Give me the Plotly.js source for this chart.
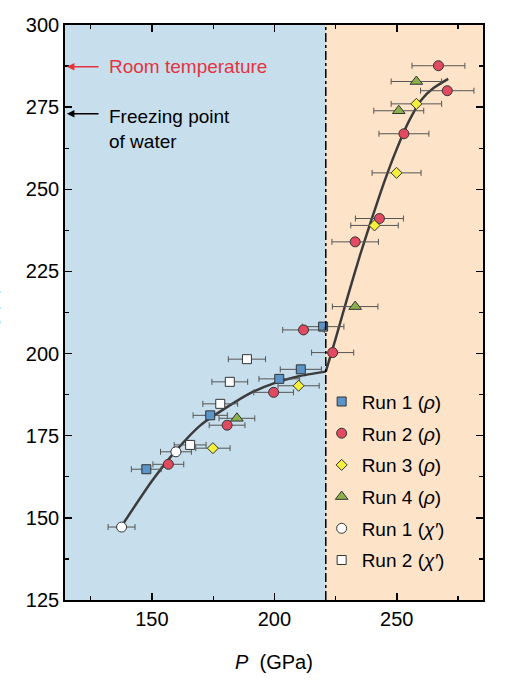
<!DOCTYPE html>
<html>
<head>
<meta charset="utf-8">
<script src="https://cdn.plot.ly/plotly-3.0.1.min.js"></script>
<style>html,body{margin:0;padding:0;background:#fff;}#chart{width:520px;height:692px;}</style>
</head>
<body>
<div id="chart"></div>
<script>
// ---- data ----
const run1RhoP   = [147.7, 173.8, 202.0, 210.8, 219.9];
const run1RhoT   = [164.8, 181.2, 192.3, 195.2, 208.2];
const run1RhoErr = [6.1, 7.0, 8.3, 8.4, 8.5];

const run2RhoP   = [156.7, 180.7, 199.7, 211.9, 223.8, 233.0, 242.9, 252.9, 267.0, 270.6];
const run2RhoT   = [166.3, 178.2, 188.2, 207.2, 200.3, 234.0, 241.1, 266.9, 287.6, 280.0];
const run2RhoErr = [6.3, 7.3, 8.1, 8.5, 8.6, 9.5, 9.8, 10.2, 10.8, 10.9];

const run3RhoP   = [174.9, 209.9, 240.9, 249.9, 258.0];
const run3RhoT   = [171.2, 190.2, 239.0, 255.0, 276.0];
const run3RhoErr = [7.0, 8.4, 9.7, 10.0, 10.3];

const run4RhoP   = [184.7, 233.0, 250.8, 258.0];
const run4RhoT   = [180.3, 214.3, 273.9, 282.8];
const run4RhoErr = [7.3, 9.3, 10.2, 10.3];

const run1ChiP   = [137.6, 159.8];
const run1ChiT   = [147.2, 170.1];
const run1ChiErr = [5.5, 6.3];

const run2ChiP   = [165.6, 177.9, 181.8, 188.8];
const run2ChiT   = [172.2, 184.7, 191.4, 198.3];
const run2ChiErr = [6.5, 7.1, 7.3, 7.6];

// guide curve (two branches meeting at the transition)
const fitLowP  = [137.6, 150.0, 160.0, 170.0, 180.0, 190.0, 200.0, 210.0, 221.0];
const fitLowT  = [147.5, 161.2, 170.6, 178.3, 183.4, 187.9, 191.0, 193.1, 194.5];
const fitHighP = [221.0, 225.0, 230.0, 235.0, 240.0, 245.0, 250.0, 255.0, 260.0, 265.0, 271.0];
const fitHighT = [194.5, 204.5, 217.5, 230.0, 241.5, 252.5, 262.3, 270.8, 277.2, 280.8, 283.6];

const transitionP = 221;
const roomT = 287.3;
const freezeT = 273;
const xRange = [114.5, 285.2];
const yRange = [125, 300];

const FONT = 'Liberation Sans, Arial, Helvetica, sans-serif';
const edge = {color: '#333333', width: 1};
function errX(arr){ return {type:'data', array: arr, visible:true, color:'#555555', thickness:1, width:3}; }

const traces = [
  {x: fitLowP, y: fitLowT, mode:'lines', line:{color:'#3b3b3b', width:2.5, shape:'spline', smoothing:0.6}, showlegend:false, hoverinfo:'skip'},
  {x: fitHighP, y: fitHighT, mode:'lines', line:{color:'#3b3b3b', width:2.5, shape:'spline', smoothing:0.6}, showlegend:false, hoverinfo:'skip'},
  {x: run1RhoP, y: run1RhoT, error_x: errX(run1RhoErr), mode:'markers', name:'Run 1 (<i>ρ</i>)', legendgroup:'a',
   marker:{symbol:'square', size:9, color:'#5b95c8', line:edge}},
  {x: run2RhoP, y: run2RhoT, error_x: errX(run2RhoErr), mode:'markers', name:'Run 2 (<i>ρ</i>)', legendgroup:'b',
   marker:{symbol:'circle', size:10, color:'#e14a60', line:edge}},
  {x: run3RhoP, y: run3RhoT, error_x: errX(run3RhoErr), mode:'markers', name:'Run 3 (<i>ρ</i>)', legendgroup:'c',
   marker:{symbol:'diamond', size:8.5, color:'#f4ee3c', line:edge}},
  {x: run4RhoP, y: run4RhoT, error_x: errX(run4RhoErr), mode:'markers', name:'Run 4 (<i>ρ</i>)', legendgroup:'d',
   marker:{symbol:'triangle-up', size:11, color:'#8bb04c', line:edge}},
  {x: run1ChiP, y: run1ChiT, error_x: errX(run1ChiErr), mode:'markers', name:'Run 1 (<i>χ′</i>)', legendgroup:'e',
   marker:{symbol:'circle', size:10, color:'#ffffff', line:edge}},
  {x: run2ChiP, y: run2ChiT, error_x: errX(run2ChiErr), mode:'markers', name:'Run 2 (<i>χ′</i>)', legendgroup:'f',
   marker:{symbol:'square', size:9, color:'#ffffff', line:edge}}
];

const layout = {
  width: 520, height: 692,
  margin: {l:65, r:37, t:25, b:92},
  paper_bgcolor: '#ffffff',
  plot_bgcolor: '#fde4c9',
  font: {family: FONT, size: 20, color: '#000'},
  showlegend: true,
  legend: {x:0.614, xanchor:'left', y:0.378, yanchor:'top', bgcolor:'rgba(0,0,0,0)',
           font:{family:FONT, size:19, color:'#000'}, tracegroupgap:4, traceorder:'grouped'},
  xaxis: {range: xRange, tick0:0, dtick:50, ticks:'inside', ticklen:7, tickwidth:1.5, tickcolor:'#000',
          showline:true, linecolor:'#000', linewidth:1.8, mirror:'allticks', showgrid:false, zeroline:false,
          minor:{ticks:'inside', dtick:25, ticklen:4, tickwidth:1.2, tickcolor:'#000', showgrid:false},
          tickfont:{family:FONT, size:20, color:'#000'},
          title:{text:'<i>P</i>  (GPa)', font:{family:FONT, size:20, color:'#000'}, standoff:26}},
  yaxis: {range: yRange, tick0:0, dtick:25, ticks:'inside', ticklen:7, tickwidth:1.5, tickcolor:'#000',
          showline:true, linecolor:'#000', linewidth:1.8, mirror:'allticks', showgrid:false, zeroline:false,
          minor:{ticks:'inside', dtick:12.5, ticklen:4, tickwidth:1.2, tickcolor:'#000', showgrid:false},
          tickfont:{family:FONT, size:20, color:'#000'}},
  shapes: [
    {type:'rect', xref:'x', yref:'paper', x0:xRange[0], x1:transitionP, y0:0, y1:1, fillcolor:'#c7dfec', line:{width:0}, layer:'below'},
    {type:'line', xref:'x', yref:'paper', x0:transitionP, x1:transitionP, y0:0, y1:1, line:{color:'#000', width:1.5, dash:'dashdot'}}
  ],
  annotations: [
    {xref:'x', yref:'y', x:115.3, y:roomT, axref:'x', ayref:'y', ax:128.8, ay:roomT, text:'', showarrow:true,
     arrowhead:2, arrowsize:1, arrowwidth:1.5, arrowcolor:'#e3343f'},
    {xref:'x', yref:'y', x:131.5, y:roomT, text:'Room temperature', showarrow:false, xanchor:'left', yanchor:'middle',
     font:{family:FONT, size:19, color:'#e3343f'}},
    {xref:'x', yref:'y', x:115.3, y:freezeT, axref:'x', ayref:'y', ax:128.8, ay:freezeT, text:'', showarrow:true,
     arrowhead:2, arrowsize:1, arrowwidth:1.5, arrowcolor:'#000'},
    {xref:'x', yref:'y', x:131.5, y:268.2, text:'Freezing point<br>of water', showarrow:false, xanchor:'left', yanchor:'middle', align:'left',
     font:{family:FONT, size:19, color:'#000'}},
    {xref:'paper', yref:'paper', x:-0.178, y:0.50, text:'<i>T</i><sub>c</sub> (K)', showarrow:false, textangle:-90,
     xanchor:'center', yanchor:'middle', font:{family:FONT, size:20, color:'#000'}}
  ]
};

Plotly.newPlot('chart', traces, layout, {staticPlot:true, displayModeBar:false});
</script>
</body>
</html>
